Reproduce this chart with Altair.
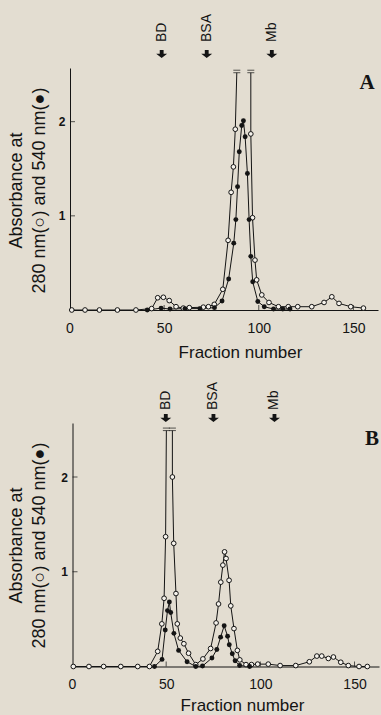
import altair as alt
import pandas as pd

SANS = "Liberation Sans"
SERIF = "Liberation Serif"
INK = "#141414"
PAPER = "#e3ddd1"
HOLLOW = "#f5f2ec"

# Panel A: absorbance at 280 nm (open) and 540 nm (filled) per fraction
A_OPEN_F = [1.2, 8.2, 15.8, 25.3, 35.1, 43.4, 46.6, 49.6, 52.7, 56.3,
            60.1, 63.3, 70.7, 73.4, 76.5, 81.0, 83.8, 85.4, 86.6, 87.6,
            88.4, 95.8, 95.8, 96.7, 98.0, 98.9, 101.6, 105.4, 110.4, 115.6,
            120.6, 128.0, 134.5, 138.6, 142.4, 148.6, 155.3]
A_OPEN_V = [0, 0, 0, 0, 0, 0.015, 0.13, 0.135, 0.10, 0.035,
            0.02, 0.025, 0.03, 0.035, 0.06, 0.22, 0.74, 1.25, 1.52, 1.92,
            2.52, 2.52, 1.87, 0.98, 0.53, 0.32, 0.16, 0.08, 0.035, 0.035,
            0.035, 0.035, 0.08, 0.14, 0.07, 0.035, 0.02]
A_FILL_F = [41.1, 48.4, 53.1, 61.0, 68.9, 76.6, 80.6, 84.1, 86.8, 87.9,
            88.8, 89.7, 91.0, 91.9, 92.8, 94.0, 94.9, 95.8, 96.8, 99.5,
            102.9, 107.8, 112.7, 116.5]
A_FILL_V = [0, 0.02, 0.01, 0.015, 0.015, 0.025, 0.095, 0.33, 0.71, 0.96,
            1.31, 1.68, 1.96, 2.01, 1.84, 1.45, 0.96, 0.57, 0.30, 0.09,
            0.035, 0.01, 0.01, 0.01]
A_TOP = 2.52

# Panel B
B_OPEN_F = [0.7, 9.0, 16.8, 25.9, 34.9, 41.1, 45.5, 47.7, 48.9, 49.7,
            50.1, 53.3, 53.3, 54.0, 55.2, 55.9, 57.5, 59.4, 61.9, 65.7,
            69.5, 73.6, 76.5, 77.8, 79.0, 80.1, 81.0, 81.8, 83.4, 84.3,
            86.0, 87.8, 89.1, 92.4, 95.3, 98.6, 104.2, 110.5, 118.8, 126.0,
            130.0, 132.6, 136.1, 138.8, 142.7, 146.7, 152.4, 156.8]
B_OPEN_V = [0, 0, 0, 0, 0, 0, 0.16, 0.45, 0.72, 1.37,
            2.49, 2.49, 2.0, 1.30, 0.77, 0.45, 0.30, 0.24, 0.14, 0.02,
            0.08, 0.19, 0.46, 0.66, 0.89, 1.07, 1.21, 1.14, 0.91, 0.64,
            0.40, 0.17, 0.07, 0.02, 0.02, 0.025, 0.025, 0.01, 0.01, 0.05,
            0.11, 0.11, 0.085, 0.10, 0.045, 0.01, 0, 0]
B_FILL_F = [43.8, 47.8, 49.5, 50.7, 51.7, 52.4, 54.1, 56.6, 61.1, 65.7,
            69.3, 74.3, 76.9, 78.9, 80.8, 82.6, 83.5, 85.1, 86.6, 89.0, 94.3]
B_FILL_V = [0, 0.075, 0.385, 0.59, 0.68, 0.57, 0.35, 0.17, 0.05, 0,
            0.005, 0.09, 0.18, 0.31, 0.43, 0.32, 0.23, 0.135, 0.06, 0.01, 0]
B_TOP = 2.49

# Elution positions of the size markers
MARKER_NAMES = ["BD", "BSA", "Mb"]
A_MARKER_F = [48.7, 72.5, 106.9]
B_MARKER_F = [49.8, 75.1, 107.5]

X_TICKS = [0, 50, 100, 150]
Y_TICKS = [1, 2]
X_DOMAIN = [0, 163]
Y_DOMAIN = [0, 2.57]
Y_TITLE = ["Absorbance at", "280 nm(○) and 540 nm(●)"]

CANVAS_W, CANVAS_H = 381, 715
ARROW = "M-0.35,-0.75L0.35,-0.75L0.35,-0.05L1,-0.05L0,0.75L-1,-0.05L-0.35,-0.05Z"


def trace(fs, vs, top):
    """One row per fraction; off-scale points start a new line segment."""
    rows, seg, prev = [], 0, False
    for i, (f, v) in enumerate(zip(fs, vs)):
        cap = v >= top
        if cap and prev:
            seg += 1
        rows.append({"f": f, "v": v, "seg": seg, "i": i, "cap": cap})
        prev = cap
    return pd.DataFrame(rows)


def panel(open_f, open_v, fill_f, fill_v, top, marker_f, letter, g):
    xs = alt.Scale(domain=X_DOMAIN, range=g["x_range"])
    ys = alt.Scale(domain=Y_DOMAIN, range=g["y_range"])
    base_px = g["y_range"][0]
    left_px = g["axis_left"]

    op = trace(open_f, open_v, top)
    fl = trace(fill_f, fill_v, top)

    x_axis = alt.Axis(
        orient="bottom", offset=-(CANVAS_H - base_px), values=X_TICKS,
        ticks=False, grid=False, domainColor=INK, domainWidth=1,
        labelFont=SANS, labelFontSize=14, labelColor=INK, labelPadding=11,
        labelFlush=False, title="Fraction number", titleFont=SANS,
        titleFontSize=17, titleFontWeight="normal", titleColor=INK,
        titleX=g["xtitle_x"], titleY=g["xtitle_y"],
        titleBaseline="alphabetic", titleAlign="center",
    )
    y_axis = alt.Axis(
        orient="left", offset=-left_px, values=Y_TICKS, ticks=False,
        grid=False, domainColor=INK, domainWidth=1, labelFont=SANS,
        labelFontSize=12, labelFontWeight="bold", labelColor=INK,
        labelPadding=5, title=Y_TITLE,
        titleFont=SANS, titleFontSize=18, titleFontWeight="normal",
        titleColor=INK, titleAngle=270, titleX=g["ytitle_x"] - left_px,
        titleY=g["ytitle_y"], titleBaseline="top", titleAlign="center",
        titleLineHeight=23,
    )

    ex = alt.X("f:Q", scale=xs, axis=None)
    ey = alt.Y("v:Q", scale=ys, axis=None)

    # the two axes sit on their own layers
    x_axis_layer = alt.Chart(op).mark_point(opacity=0, size=1).encode(
        x=alt.X("f:Q", scale=xs, axis=x_axis)
    )
    y_axis_layer = alt.Chart(op).mark_point(opacity=0, size=1).encode(
        y=alt.Y("v:Q", scale=ys, axis=y_axis)
    )

    open_line = alt.Chart(op).mark_line(color=INK, strokeWidth=1).encode(
        x=ex, y=ey, detail="seg:N", order="i:Q"
    )
    fill_line = alt.Chart(fl).mark_line(color=INK, strokeWidth=1).encode(
        x=ex, y=ey, order="i:Q"
    )
    cap_hi = alt.Chart(op).transform_filter("datum.cap").mark_tick(
        orient="horizontal", size=7, thickness=1, color=INK, yOffset=-2.5
    ).encode(x=ex, y=ey)
    cap_lo = alt.Chart(op).transform_filter("datum.cap").mark_tick(
        orient="horizontal", size=7, thickness=1, color=INK, yOffset=0
    ).encode(x=ex, y=ey)

    xt = pd.DataFrame({"f": [t for t in X_TICKS if t > 0],
                       "v": [0] * (len(X_TICKS) - 1)})
    yt = pd.DataFrame({"f": [0] * len(Y_TICKS), "v": Y_TICKS})
    x_ticks = alt.Chart(xt).mark_tick(
        orient="vertical", size=5, thickness=1, color=INK, yOffset=-2.5
    ).encode(x=ex, y=ey)
    y_ticks = alt.Chart(yt).mark_tick(
        orient="horizontal", size=5, thickness=1, color=INK,
        xOffset=g["axis_left"] - g["x_range"][0] + 2.5,
    ).encode(x=ex, y=ey)

    open_pts = alt.Chart(op).transform_filter("!datum.cap").mark_point(
        shape="circle", filled=True, fill=HOLLOW, stroke=INK, strokeWidth=1,
        size=22, opacity=1
    ).encode(x=ex, y=ey)
    fill_pts = alt.Chart(fl).mark_circle(color=INK, size=24, opacity=1).encode(
        x=ex, y=ey
    )

    md = pd.DataFrame({"f": marker_f, "name": MARKER_NAMES})
    arrows = alt.Chart(md).mark_point(
        shape=ARROW, filled=True, color=INK, size=120, opacity=1
    ).encode(x=ex, y=alt.value(g["arrow_y"]))
    names = alt.Chart(md).mark_text(
        angle=270, align="left", baseline="middle", font=SANS, fontSize=14,
        color=INK
    ).encode(x=ex, y=alt.value(g["label_y"]), text="name:N")

    tag = alt.Chart(pd.DataFrame({"t": [letter]})).mark_text(
        font=SERIF, fontWeight="bold", fontSize=21, color=INK,
        align="center", baseline="middle"
    ).encode(x=alt.value(g["letter_x"]), y=alt.value(g["letter_y"]), text="t:N")

    return [x_axis_layer, y_axis_layer, open_line, fill_line, cap_hi, cap_lo,
            x_ticks, y_ticks, open_pts, fill_pts, arrows, names, tag]


geom_a = dict(x_range=[69.5, 378], y_range=[310, 68], axis_left=70,
              xtitle_x=240, xtitle_y=47, ytitle_x=7, ytitle_y=190,
              arrow_y=54, label_y=42, letter_x=367, letter_y=83)
geom_b = dict(x_range=[72, 379], y_range=[666.5, 423], axis_left=72.5,
              xtitle_x=242, xtitle_y=43.5, ytitle_x=7, ytitle_y=545,
              arrow_y=418, label_y=410, letter_x=372, letter_y=439)

layers = (
    panel(A_OPEN_F, A_OPEN_V, A_FILL_F, A_FILL_V, A_TOP, A_MARKER_F, "A", geom_a)
    + panel(B_OPEN_F, B_OPEN_V, B_FILL_F, B_FILL_V, B_TOP, B_MARKER_F, "B", geom_b)
)

chart = (
    alt.layer(*layers)
    .resolve_scale(x="independent", y="independent")
    .resolve_axis(x="independent", y="independent")
    .properties(width=CANVAS_W, height=CANVAS_H,
                autosize=alt.AutoSizeParams(type="none"), padding=0)
    .configure(background=PAPER)
    .configure_view(stroke=None)
)

chart.save("out.html", embed_options={"renderer": "svg", "actions": False})
